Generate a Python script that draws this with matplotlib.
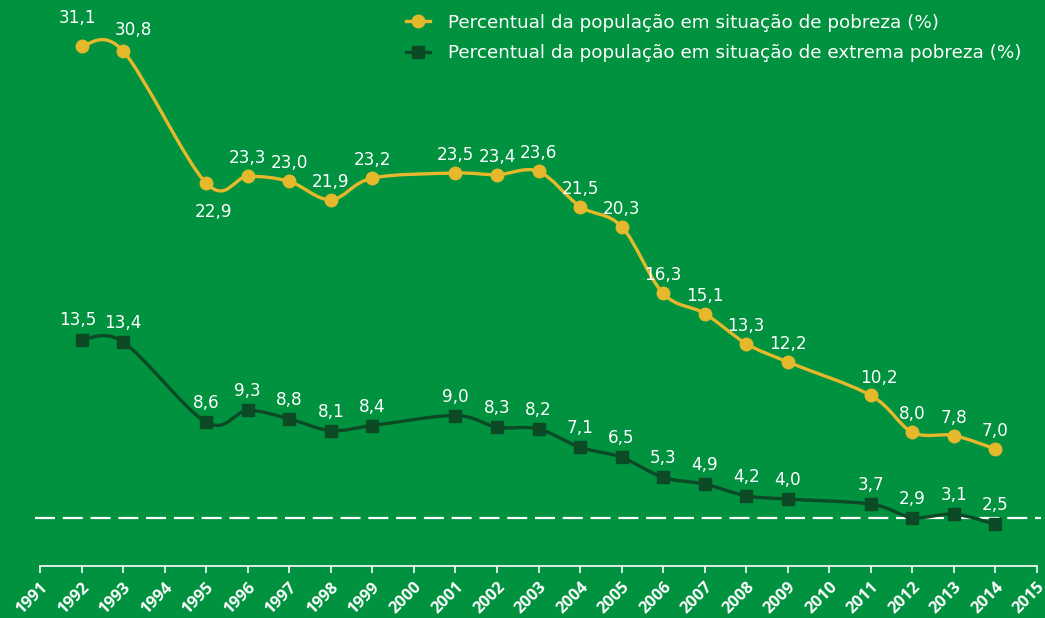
import matplotlib
matplotlib.use("Agg")
import matplotlib.pyplot as plt
from matplotlib.path import Path
from matplotlib.patches import PathPatch
from matplotlib.lines import Line2D

anos = [1992, 1993, 1995, 1996, 1997, 1998, 1999, 2001, 2002, 2003, 2004,
        2005, 2006, 2007, 2008, 2009, 2011, 2012, 2013, 2014]
pobreza = [31.1, 30.8, 22.9, 23.3, 23.0, 21.9, 23.2, 23.5, 23.4, 23.6, 21.5,
           20.3, 16.3, 15.1, 13.3, 12.2, 10.2, 8.0, 7.8, 7.0]
extrema = [13.5, 13.4, 8.6, 9.3, 8.8, 8.1, 8.4, 9.0, 8.3, 8.2, 7.1,
           6.5, 5.3, 4.9, 4.2, 4.0, 3.7, 2.9, 3.1, 2.5]
ticks_anos = list(range(1991, 2016))
meta = 2.9

leg_pobreza = "Percentual da população em situação de pobreza (%)"
leg_extrema = "Percentual da população em situação de extrema pobreza (%)"

BG = "#00923F"
AMARELO = "#E6B82C"
ESCURO = "#0B4A24"


def fmt(v):
    return f"{v:.1f}".replace(".", ",")


def smooth_path(xs, ys):
    # Excel-like smoothing: Catmull-Rom as cubic Bezier segments
    pts = list(zip(xs, ys))
    verts = [pts[0]]
    codes = [Path.MOVETO]
    n = len(pts)
    for i in range(n - 1):
        p0 = pts[i - 1] if i > 0 else pts[i]
        p1 = pts[i]
        p2 = pts[i + 1]
        p3 = pts[i + 2] if i + 2 < n else pts[i + 1]
        c1 = (p1[0] + (p2[0] - p0[0]) / 6, p1[1] + (p2[1] - p0[1]) / 6)
        c2 = (p2[0] - (p3[0] - p1[0]) / 6, p2[1] - (p3[1] - p1[1]) / 6)
        verts += [c1, c2, p2]
        codes += [Path.CURVE4] * 3
    return Path(verts, codes)


plt.rcParams['font.family'] = ['Open Sans', 'DejaVu Sans']

fig = plt.figure(figsize=(10.45, 6.18), dpi=100, facecolor=BG)
ax = fig.add_axes([40 / 1045, 52 / 618, 997 / 1045, 566 / 618])
ax.set_facecolor(BG)
ax.set_xlim(1991, 2015)
ax.set_ylim(0, 33.85)

ax.plot([1990.88, 2015.1], [meta, meta], color="white", lw=1.6,
        dashes=(9, 3.5), clip_on=False, zorder=1)

ax.add_patch(PathPatch(smooth_path(anos, pobreza), fill=False,
                       edgecolor=AMARELO, lw=2.4, zorder=2))
ax.add_patch(PathPatch(smooth_path(anos, extrema), fill=False,
                       edgecolor=ESCURO, lw=2.4, zorder=2))
ax.plot(anos, pobreza, "o", color=AMARELO, ms=9, zorder=3, clip_on=False)
ax.plot(anos, extrema, "s", color=ESCURO, ms=8, zorder=3, clip_on=False)

# label offsets in pixels (dx, dy); default is centred ~19 px above
off_pob = {1992: (-4, 28), 1993: (10, 21), 1995: (7, -29), 2011: (8, 17)}
off_ext = {1992: (-4, 20)}
lbl = dict(textcoords="offset points", ha="center", va="center",
           color="white", fontsize=12.2, family=["DejaVu Sans"], zorder=4)
for ano, p, e in zip(anos, pobreza, extrema):
    dx, dy = off_pob.get(ano, (0, 18))
    ax.annotate(fmt(p), (ano, p), xytext=(dx * 0.72, dy * 0.72), **lbl)
    dx, dy = off_ext.get(ano, (0, 19))
    ax.annotate(fmt(e), (ano, e), xytext=(dx * 0.72, dy * 0.72), **lbl)

for s in ["top", "right", "left"]:
    ax.spines[s].set_visible(False)
ax.spines["bottom"].set_color("white")
ax.spines["bottom"].set_linewidth(1.2)
ax.set_yticks([])
ax.set_xticks(ticks_anos)
ax.set_xticklabels([str(a) for a in ticks_anos], rotation=45, ha="right",
                   rotation_mode="anchor", fontsize=11.8, fontweight="bold",
                   color="white")
ax.tick_params(axis="x", colors="white", length=5, width=1.2, pad=4)

handles = [
    Line2D([], [], color=AMARELO, lw=2.4, marker="o", ms=9),
    Line2D([], [], color=ESCURO, lw=2.4, marker="s", ms=8),
]
fig.legend(handles, [leg_pobreza, leg_extrema], loc="upper left",
           bbox_to_anchor=(392 / 1045, 1.0), frameon=False,
           prop={"family": ["DejaVu Sans"], "size": 13.2},
           labelcolor="white", handlelength=1.3, handletextpad=1.0,
           labelspacing=0.68, borderpad=0.25)

fig.savefig("out.png", dpi=100, facecolor=BG)
